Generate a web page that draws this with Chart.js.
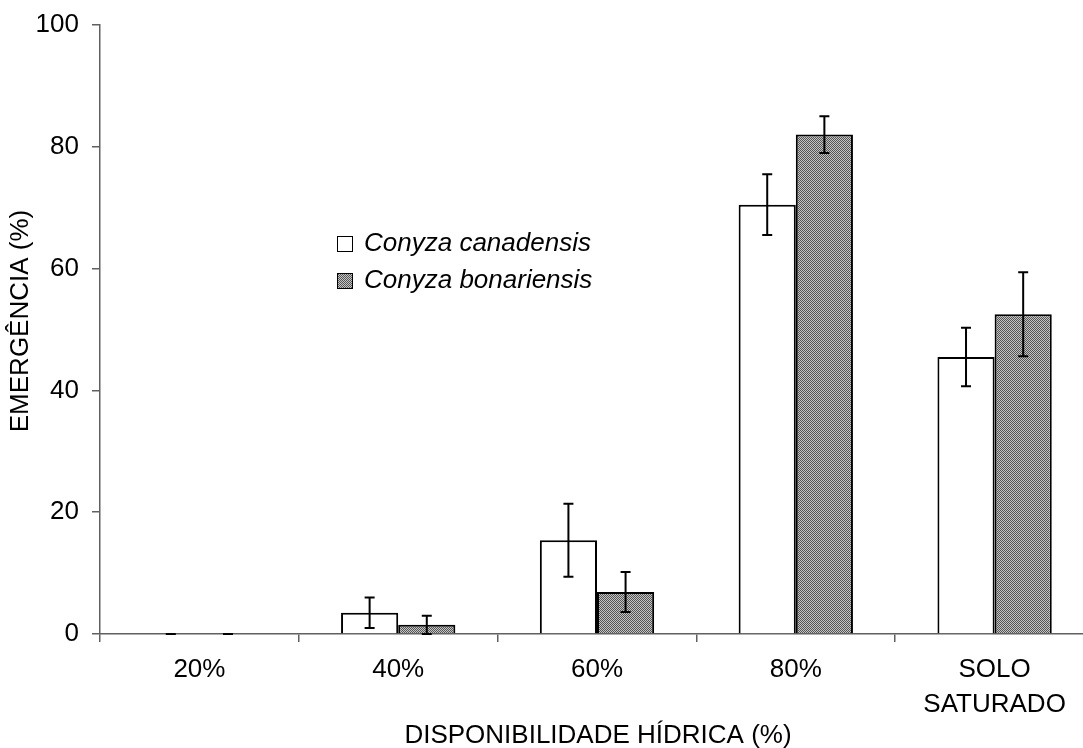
<!DOCTYPE html>
<html>
<head>
<meta charset="utf-8">
<script src="https://cdn.jsdelivr.net/npm/chart.js@4"></script>
<style>
    html, body { margin: 0; padding: 0; background: #fff; overflow: hidden; }
    #wrap { width: 1094px; height: 748px; }
</style>
</head>
<body>
<div id="wrap"><canvas id="chart" width="1094" height="748"></canvas></div>
<script>
// --- Data ---
const categories = ['20%', '40%', '60%', '80%', ['SOLO', 'SATURADO']];
const canadensis = [0, 3.5, 15.4, 70.5, 45.5];
const canadensisErr = [0, 2.5, 6.0, 5.0, 4.8];
const bonariensis = [0, 1.5, 6.9, 82.0, 52.5];
const bonariensisErr = [0, 1.5, 3.3, 3.0, 6.9];
const yTicks = [0, 20, 40, 60, 80, 100];

const FONT = 'Liberation Sans, Arial, sans-serif';
const AXIS = '#606060';

// --- Dotted gray fill for the second series ---
function makePattern() {
    const c = document.createElement('canvas');
    c.width = 2; c.height = 2;
    const p = c.getContext('2d');
    p.fillStyle = '#c4c4c4';
    p.fillRect(0, 0, 2, 2);
    p.fillStyle = '#555';
    p.fillRect(0, 0, 1, 1);
    p.fillRect(1, 1, 1, 1);
    return p.createPattern(c, 'repeat');
}
const grayDots = makePattern();

// --- Plugins ---
const errorBars = {
    id: 'errorBars',
    afterDatasetsDraw(chart) {
        const ctx = chart.ctx;
        const y = chart.scales.y;
        const errs = [canadensisErr, bonariensisErr];
        ctx.save();
        ctx.strokeStyle = '#000';
        ctx.lineWidth = 2;
        chart.data.datasets.forEach((ds, i) => {
            chart.getDatasetMeta(i).data.forEach((bar, j) => {
                const v = ds.data[j];
                const top = y.getPixelForValue(v + errs[i][j]);
                const bot = y.getPixelForValue(Math.max(0, v - errs[i][j]));
                ctx.beginPath();
                ctx.moveTo(bar.x, top); ctx.lineTo(bar.x, bot);
                ctx.moveTo(bar.x - 5, top); ctx.lineTo(bar.x + 5, top);
                ctx.moveTo(bar.x - 5, bot); ctx.lineTo(bar.x + 5, bot);
                ctx.stroke();
            });
        });
        ctx.restore();
    }
};

// legend inside the plot + axis titles
const labelsPlugin = {
    id: 'labelsPlugin',
    afterDraw(chart) {
        const ctx = chart.ctx;
        const rows = [
            { text: 'Conyza canadensis', fill: '#fff', y: 244 },
            { text: 'Conyza bonariensis', fill: grayDots, y: 281 }
        ];
        ctx.save();
        ctx.font = 'italic 26px ' + FONT;
        ctx.textBaseline = 'middle';
        rows.forEach(r => {
            ctx.fillStyle = r.fill;
            ctx.fillRect(337, r.y - 8, 15, 15);
            ctx.strokeStyle = '#000';
            ctx.lineWidth = 1;
            ctx.strokeRect(337.5, r.y - 7.5, 15, 15);
            ctx.fillStyle = '#000';
            ctx.fillText(r.text, 364, r.y);
        });

        ctx.font = '26px ' + FONT;
        ctx.textAlign = 'center';
        ctx.fillText('DISPONIBILIDADE HÍDRICA (%)', 598, 736);
        ctx.translate(21, 321);
        ctx.rotate(-Math.PI / 2);
        ctx.fillText('EMERGÊNCIA (%)', 0, 0);
        ctx.restore();
    }
};

// --- Chart ---
const ctx = document.getElementById('chart').getContext('2d');
new Chart(ctx, {
    type: 'bar',
    data: {
        labels: categories,
        datasets: [{
            label: 'Conyza canadensis',
            data: canadensis,
            backgroundColor: '#fff',
            borderColor: '#000',
            borderWidth: 2
        }, {
            label: 'Conyza bonariensis',
            data: bonariensis,
            backgroundColor: grayDots,
            borderColor: '#000',
            borderWidth: 2
        }]
    },
    options: {
        responsive: false,
        animation: false,
        layout: { padding: { top: 25, left: 0, right: 0, bottom: 0 } },
        plugins: {
            legend: { display: false },
            tooltip: { enabled: false }
        },
        datasets: {
            bar: { categoryPercentage: 0.575, barPercentage: 1 }
        },
        scales: {
            x: {
                grid: { drawOnChartArea: false, drawTicks: true, tickLength: 8, color: AXIS, lineWidth: 1.5 },
                border: { color: AXIS, width: 1.5 },
                ticks: {
                    color: '#000',
                    padding: 10,
                    maxRotation: 0,
                    font: { family: FONT, size: 26, lineHeight: 1.35 }
                },
                afterFit(scale) {
                    scale.height = 114;
                    scale.paddingLeft = 0;
                    scale.paddingRight = 0;
                }
            },
            y: {
                min: 0,
                max: 100,
                afterBuildTicks(scale) { scale.ticks = yTicks.map(v => ({ value: v })); },
                grid: { drawOnChartArea: false, drawTicks: true, tickLength: 8, color: AXIS, lineWidth: 1.5 },
                border: { color: AXIS, width: 1.5 },
                ticks: {
                    color: '#000',
                    padding: 13,
                    font: { family: FONT, size: 26 }
                },
                afterFit(scale) {
                    scale.width = 100;
                    scale.paddingTop = 0;
                    scale.paddingBottom = 0;
                }
            }
        }
    },
    plugins: [errorBars, labelsPlugin]
});
</script>
</body>
</html>
